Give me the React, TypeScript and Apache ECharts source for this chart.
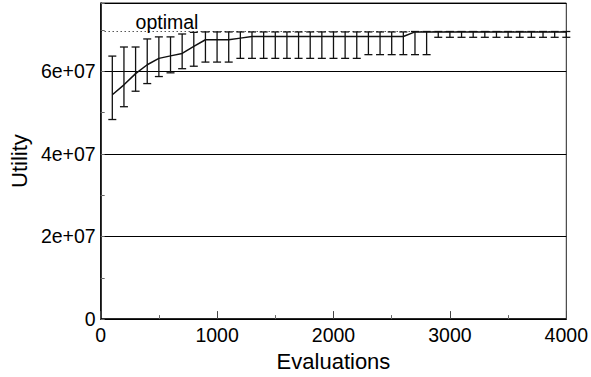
import React, { useEffect, useRef } from 'react';
import * as echarts from 'echarts';

const evaluations = [
  100, 200, 300, 400, 500, 600, 700, 800, 900, 1000,
  1100, 1200, 1300, 1400, 1500, 1600, 1700, 1800, 1900, 2000,
  2100, 2200, 2300, 2400, 2500, 2600, 2700, 2800, 2900, 3000,
  3100, 3200, 3300, 3400, 3500, 3600, 3700, 3800, 3900, 4000,
];
const meanUtility = [
  5.43e7, 5.67e7, 5.94e7, 6.155e7, 6.31e7, 6.37e7, 6.43e7, 6.6e7, 6.76e7, 6.76e7,
  6.76e7, 6.8e7, 6.84e7, 6.84e7, 6.84e7, 6.84e7, 6.84e7, 6.84e7, 6.84e7, 6.84e7,
  6.84e7, 6.84e7, 6.84e7, 6.84e7, 6.84e7, 6.84e7, 6.95e7, 6.95e7, 6.95e7, 6.95e7,
  6.95e7, 6.95e7, 6.95e7, 6.95e7, 6.95e7, 6.95e7, 6.95e7, 6.95e7, 6.95e7, 6.95e7,
];
const lowUtility = [
  4.83e7, 5.14e7, 5.515e7, 5.7e7, 5.87e7, 5.96e7, 6.06e7, 6.12e7, 6.22e7, 6.22e7,
  6.22e7, 6.31e7, 6.31e7, 6.31e7, 6.31e7, 6.31e7, 6.31e7, 6.31e7, 6.31e7, 6.31e7,
  6.31e7, 6.31e7, 6.4e7, 6.4e7, 6.4e7, 6.4e7, 6.4e7, 6.4e7, 6.82e7, 6.82e7,
  6.82e7, 6.82e7, 6.82e7, 6.82e7, 6.82e7, 6.82e7, 6.82e7, 6.82e7, 6.82e7, 6.82e7,
];
const highUtility = [
  6.365e7, 6.585e7, 6.585e7, 6.78e7, 6.83e7, 6.83e7, 6.9e7, 6.94e7, 6.95e7, 6.95e7,
  6.95e7, 6.95e7, 6.95e7, 6.95e7, 6.95e7, 6.95e7, 6.95e7, 6.95e7, 6.95e7, 6.95e7,
  6.95e7, 6.95e7, 6.95e7, 6.95e7, 6.95e7, 6.95e7, 6.96e7, 6.96e7, 6.96e7, 6.96e7,
  6.96e7, 6.96e7, 6.96e7, 6.96e7, 6.96e7, 6.96e7, 6.96e7, 6.96e7, 6.96e7, 6.96e7,
];
const optimalUtility = 6.96e7;
const optimalLabel = 'optimal';
const optimalLabelAt = 300;
const xRange = [0, 4000];
const yRange = [0, 7.65e7];

export default function App() {
  const ref = useRef<HTMLDivElement>(null);
  useEffect(() => {
    if (!ref.current) return;
    const chart = echarts.init(ref.current, undefined, { renderer: 'svg' });
    const ink = '#000';
    const font = "'Liberation Sans', Arial, Helvetica, sans-serif";
    chart.setOption({
      animation: false,
      backgroundColor: '#fff',
      textStyle: { fontFamily: font, color: ink },
      grid: {
        left: 99, right: 24, top: 3, bottom: 47,
        show: true, borderColor: '#222', borderWidth: 1, backgroundColor: 'transparent',
      },
      xAxis: {
        type: 'value', min: xRange[0], max: xRange[1], interval: 1000,
        name: 'Evaluations', nameLocation: 'middle', nameGap: 24,
        nameTextStyle: { fontSize: 22, color: ink, fontFamily: font },
        axisLine: { show: true, lineStyle: { color: ink, width: 1.5 } },
        axisTick: { show: true, inside: true, length: 8, lineStyle: { color: '#444', width: 1 } },
        minorTick: { show: true, splitNumber: 2, length: 4, lineStyle: { color: '#666', width: 1 } },
        splitLine: { show: false },
        axisLabel: {
          fontSize: 19.5, color: ink, margin: 6, fontFamily: font,
          formatter: (v: number) => String(v),
        },
      },
      yAxis: [
        {
          type: 'value', min: yRange[0], max: yRange[1], interval: 2e7,
          name: 'Utility', nameLocation: 'middle', nameGap: 65,
          nameTextStyle: { fontSize: 22, color: ink, fontFamily: font },
          axisLine: { show: true, lineStyle: { color: ink, width: 1.5 } },
          axisTick: { show: true, inside: true, length: 6, lineStyle: { color: ink } },
          splitLine: { show: true, lineStyle: { color: ink, width: 1 } },
          axisLabel: {
            fontSize: 19.5, color: ink, margin: 5, fontFamily: font, showMaxLabel: false,
            formatter: (v: number) => (v === 0 ? '0' : `${Math.round(v / 1e7)}e+07`),
          },
        },
        {
          type: 'value', min: yRange[0], max: yRange[1], interval: 1e7, position: 'left',
          axisLine: { show: false },
          axisTick: { show: true, inside: true, length: 4, lineStyle: { color: '#666', width: 1 } },
          axisLabel: { show: false },
          splitLine: { show: false },
        },
      ],
      series: [
        {
          type: 'line', yAxisIndex: 0, silent: true, symbol: 'none', z: 1,
          data: [[xRange[0], optimalUtility], [xRange[1], optimalUtility]],
          lineStyle: { color: ink, width: 1, type: [1, 3] },
        },
        {
          type: 'scatter', yAxisIndex: 0, silent: true, symbolSize: 0, z: 1,
          data: [[optimalLabelAt, optimalUtility]],
          itemStyle: { color: ink, opacity: 1 },
          label: {
            show: true, position: 'top', align: 'left', distance: 0,
            formatter: optimalLabel, fontSize: 19.5, color: ink, fontFamily: font, opacity: 1,
          },
        },
        {
          type: 'custom', yAxisIndex: 0, z: 3, clip: false,
          data: evaluations.map((x, i) => [x, lowUtility[i], highUtility[i]]),
          renderItem: (params: any, api: any) => {
            const x = api.value(0);
            const pLo = api.coord([x, api.value(1)]);
            const pHi = api.coord([x, api.value(2)]);
            const half = 4;
            const style = { stroke: '#111', lineWidth: 1.3, fill: 'none' };
            return {
              type: 'group',
              children: [
                { type: 'line', shape: { x1: pHi[0], y1: pHi[1], x2: pLo[0], y2: pLo[1] }, style },
                { type: 'line', shape: { x1: pHi[0] - half, y1: pHi[1], x2: pHi[0] + half, y2: pHi[1] }, style },
                { type: 'line', shape: { x1: pLo[0] - half, y1: pLo[1], x2: pLo[0] + half, y2: pLo[1] }, style },
              ],
            };
          },
        },
        {
          type: 'line', yAxisIndex: 0, symbol: 'none', z: 4,
          data: evaluations.map((x, i) => [x, meanUtility[i]]),
          lineStyle: { color: '#111', width: 1.5 },
        },
      ],
    });
    return () => chart.dispose();
  }, []);
  return (
    <div
      ref={ref}
      style={{ position: 'fixed', left: 0, top: 0, width: 591, height: 377, background: '#fff' }}
    />
  );
}
